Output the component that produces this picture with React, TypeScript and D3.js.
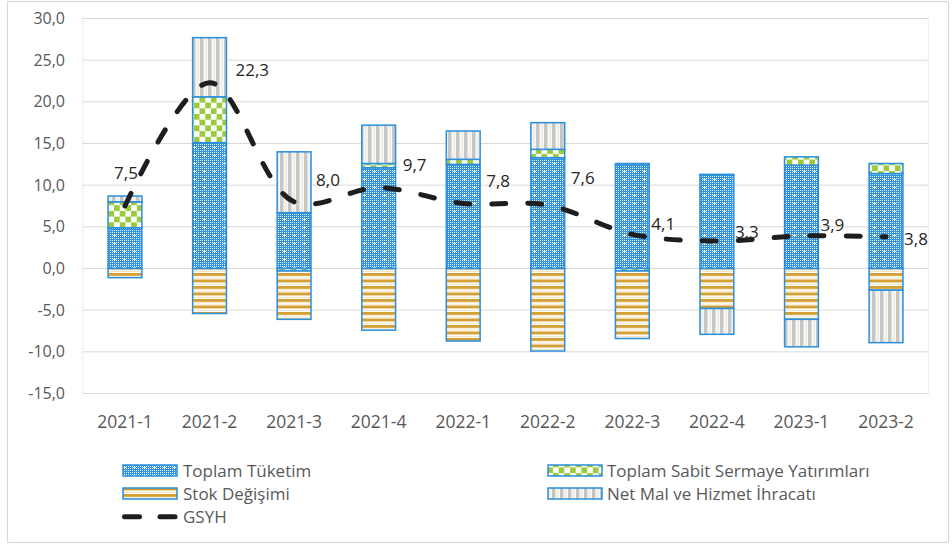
import React from "react";
import * as d3 from "d3";

const categories = ["2021-1", "2021-2", "2021-3", "2021-4", "2022-1", "2022-2", "2022-3", "2022-4", "2023-1", "2023-2"];
const consumption = [4.9, 15.1, 6.7, 12.1, 12.5, 13.3, 12.4, 11.2, 12.4, 11.4];
const investment = [3.1, 5.5, -0.3, 0.5, 0.6, 1.0, -0.3, 0.1, 1.0, 1.2];
const stockChange = [-1.1, -5.4, -5.8, -7.4, -8.7, -9.9, -8.1, -4.8, -6.1, -2.6];
const netExports = [0.7, 7.1, 7.3, 4.6, 3.4, 3.2, 0.2, -3.1, -3.3, -6.3];
const gdp = [7.5, 22.3, 8.0, 9.7, 7.8, 7.6, 4.1, 3.3, 3.9, 3.8];
const yTicks = [-15, -10, -5, 0, 5, 10, 15, 20, 25, 30];

const seriesNames = ["Toplam Tüketim", "Toplam Sabit Sermaye Yatırımları", "Stok Değişimi", "Net Mal ve Hizmet İhracatı"];
const lineName = "GSYH";

// label placement offsets (layout only): [dx from point, dy to label middle, anchor]
const labelOffsets: [number, number, string][] = [
  [1, -33, "middle"],
  [26, -13, "start"],
  [22, -22, "start"],
  [24, -23, "start"],
  [23, -22, "start"],
  [23, -27, "start"],
  [19, -10, "start"],
  [18, -9, "start"],
  [19, -11, "start"],
  [18, 2, "start"],
];

const W = 952;
const H = 547;
const plot = { left: 82.7, right: 928.3, top: 18.5, bottom: 393.5 };
const fontFam = "'Open Sans', 'DejaVu Sans', sans-serif";
const outline = "#2a8fdc";

function ConsPattern() {
  const dots: JSX.Element[] = [];
  for (let i = 0; i < 10; i += 2) {
    for (let j = 0; j < 8; j += 2) {
      dots.push(<rect key={i + "-" + j} x={i} y={j} width={1} height={1} fill="#ffffff" fillOpacity={0.85} />);
    }
  }
  return (
    <pattern id="patCons" width="10" height="8" patternUnits="userSpaceOnUse">
      <rect width="10" height="8" fill="#3593de" />
      {dots}
      <rect x="4" y="2" width="1" height="3" fill="#ffffff" />
      <rect x="3" y="3" width="3" height="1" fill="#ffffff" />
    </pattern>
  );
}

export default function App() {
  const x = d3.scaleBand<string>().domain(categories).range([plot.left, plot.right]).paddingInner(0.6).paddingOuter(0.3);
  const y = d3.scaleLinear().domain([-15, 30]).range([plot.bottom, plot.top]);

  const rows = categories.map((c, i) => ({
    cat: c,
    s0: consumption[i],
    s1: investment[i],
    s2: stockChange[i],
    s3: netExports[i],
  }));
  const keys = ["s0", "s1", "s2", "s3"];
  const stacked = d3.stack<any>().keys(keys).offset(d3.stackOffsetDiverging)(rows);
  const fills = ["url(#patCons)", "url(#patInv)", "url(#patStock)", "url(#patNet)"];

  const line = d3
    .line<number>()
    .x((_, i) => (x(categories[i]) as number) + x.bandwidth() / 2)
    .y((d) => y(d))
    .curve(d3.curveCatmullRom.alpha(0.5));

  const legendRows = [
    { x: 123, y: 465, kind: 0, tx: 183, ty: 476.5 },
    { x: 123, y: 488, kind: 2, tx: 183, ty: 500 },
    { x: 548, y: 465, kind: 1, tx: 607, ty: 476.5 },
    { x: 548, y: 488, kind: 3, tx: 607, ty: 500 },
  ];

  return (
    <svg width={W} height={H} style={{ position: "absolute", left: 0, top: 0 }} xmlns="http://www.w3.org/2000/svg">
      <defs>
        <ConsPattern />
        <pattern id="patInv" width="11.4" height="11.4" patternUnits="userSpaceOnUse">
          <rect width="11.4" height="11.4" fill="#ffffff" />
          <rect x="0" y="0" width="5.7" height="5.7" fill="#9acb3c" />
          <rect x="5.7" y="5.7" width="5.7" height="5.7" fill="#9acb3c" />
        </pattern>
        <pattern id="patStock" width="4" height="6.5" patternUnits="userSpaceOnUse">
          <rect width="4" height="6.5" fill="#ffffff" />
          <rect y="0" width="4" height="3" fill="#d4a035" />
          <rect y="4.6" width="4" height="0.8" fill="#eedcb4" />
        </pattern>
        <pattern id="patNet" width="8" height="4" patternUnits="userSpaceOnUse">
          <rect width="8" height="4" fill="#f8f8f3" />
          <rect x="0" width="3.5" height="4" fill="#c6c6c6" />
          <rect x="5.5" width="1" height="4" fill="#e4e4e4" />
        </pattern>
      </defs>

      {/* outer chart border */}
      <rect x={7.5} y={1.5} width={941} height={541} fill="#ffffff" stroke="#d9d9d9" strokeWidth={1.2} />

      {/* plot area border */}
      <rect x={plot.left} y={plot.top} width={plot.right - plot.left} height={plot.bottom - plot.top} fill="none" stroke="#ececec" strokeWidth={1} />

      {/* gridlines */}
      {yTicks.map((t) => (
        <line key={t} x1={plot.left} x2={plot.right} y1={y(t)} y2={y(t)} stroke="#d9d9d9" strokeWidth={1} />
      ))}

      {/* y labels */}
      {yTicks.map((t) => (
        <text key={"yl" + t} x={65} y={y(t)} dy="0.35em" textAnchor="end" fontFamily={fontFam} fontSize={16} fill="#595959">
          {d3.format(".1f")(t).replace(".", ",").replace("−", "-")}
        </text>
      ))}

      {/* bars */}
      {stacked.map((s, si) => (
        <g key={s.key}>
          {s.map((d, i) => {
            const y0 = y(d[0]);
            const y1 = y(d[1]);
            const top = Math.min(y0, y1);
            const h = Math.abs(y1 - y0);
            if (h < 0.01) return null;
            return (
              <rect
                key={i}
                x={x(categories[i]) as number}
                y={top}
                width={x.bandwidth()}
                height={h}
                fill={fills[si]}
                stroke={outline}
                strokeWidth={1.5}
              />
            );
          })}
        </g>
      ))}

      {/* x labels */}
      {categories.map((c) => (
        <text key={"xl" + c} x={(x(c) as number) + x.bandwidth() / 2} y={428} textAnchor="middle" fontFamily={fontFam} fontSize={17.5} fill="#595959">
          {c}
        </text>
      ))}

      {/* GDP line */}
      <path d={line(gdp) as string} fill="none" stroke="#1e1e1e" strokeWidth={5} strokeDasharray="14 22" strokeLinecap="round" />

      {/* data labels */}
      {gdp.map((v, i) => {
        const px = (x(categories[i]) as number) + x.bandwidth() / 2;
        const py = y(v);
        const [dx, dy, anchor] = labelOffsets[i];
        return (
          <text key={"dl" + i} x={px + dx} y={py + dy} dy="0.35em" textAnchor={anchor as any} fontFamily={fontFam} fontSize={17} fill="#262626">
            {d3.format(".1f")(v).replace(".", ",")}
          </text>
        );
      })}

      {/* legend */}
      {legendRows.map((r) => (
        <g key={r.kind}>
          <rect x={r.x} y={r.y} width={54} height={11} fill={fills[r.kind]} stroke={outline} strokeWidth={1.5} />
          <text x={r.tx} y={r.ty} fontFamily={fontFam} fontSize={17} fill="#595959">
            {seriesNames[r.kind]}
          </text>
        </g>
      ))}
      <path d="M124.5,516.7 L175.5,516.7" stroke="#1e1e1e" strokeWidth={5} strokeDasharray="15 20.5" strokeLinecap="round" />
      <text x={183} y={523} fontFamily={fontFam} fontSize={17} fill="#595959">
        {lineName}
      </text>
    </svg>
  );
}
